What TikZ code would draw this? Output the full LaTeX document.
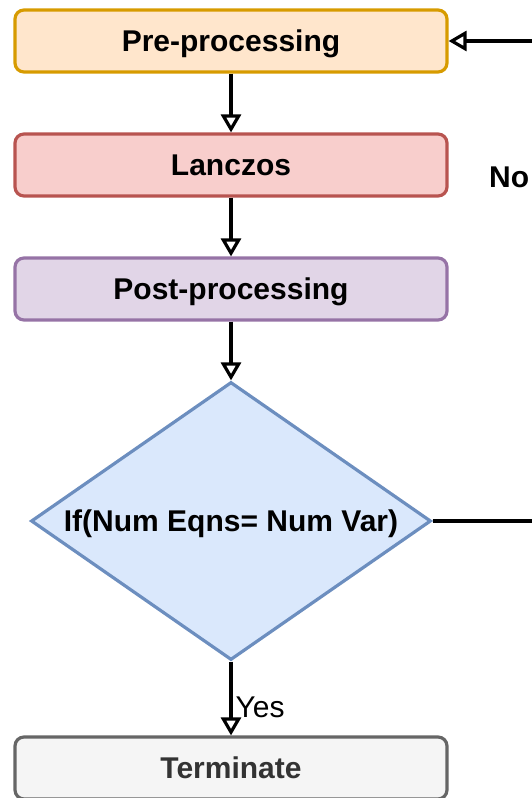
\documentclass[tikz,border=0pt]{standalone}
\usepackage{fontspec}
\setmainfont{Liberation Sans}
\usetikzlibrary{arrows.meta,shapes.geometric}

\definecolor{preFill}{HTML}{FFE6CC}\definecolor{preLine}{HTML}{D79B00}
\definecolor{lanFill}{HTML}{F8CECC}\definecolor{lanLine}{HTML}{B85450}
\definecolor{postFill}{HTML}{E1D5E7}\definecolor{postLine}{HTML}{9673A6}
\definecolor{decFill}{HTML}{DAE8FC}\definecolor{decLine}{HTML}{6C8EBF}
\definecolor{endFill}{HTML}{F5F5F5}\definecolor{endLine}{HTML}{666666}
\definecolor{endText}{HTML}{333333}

\tikzset{
  stepbox/.style={rounded corners=9pt, line width=3.2pt, minimum width=432pt,
    minimum height=62pt, inner sep=0pt, text depth=0pt,
    font=\fontsize{30}{30}\selectfont\bfseries},
  flow/.style={line width=3.2pt, -{Triangle[open, length=18pt, width=20pt, line width=3.2pt]}},
  lbl/.style={inner sep=0pt, text depth=0pt, font=\fontsize{30}{30}\selectfont}
}

\begin{document}
\begin{tikzpicture}[x=1pt, y=-1pt]
  \useasboundingbox (0,0) rectangle (532,798);
  \clip (0,0) rectangle (532,798);

  \node[stepbox, fill=preFill, draw=preLine] (pre) at (231,41) {Pre-processing};
  \node[stepbox, fill=lanFill, draw=lanLine] (lan) at (231,165) {Lanczos};
  \node[stepbox, fill=postFill, draw=postLine] (post) at (231,289) {Post-processing};
  \node[diamond, aspect=1.44, fill=decFill, draw=decLine, line width=3.2pt,
        minimum width=400pt, minimum height=278pt, inner sep=0pt] (dec) at (231,521) {};
  \node[lbl, font=\fontsize{30}{30}\selectfont\bfseries] (cond) at (231,521) {If(Num Eqns= Num Var)};
  \node[stepbox, fill=endFill, draw=endLine, text=endText] (term) at (231,768) {Terminate};

  \draw[flow] (pre) -- (lan);
  \draw[flow] (lan) -- (post);
  \draw[flow] (post) -- (dec);
  \draw[flow] (dec) -- (term) node[lbl, pos=0.62, anchor=west, xshift=3pt] (yes) {Yes};

  \coordinate (loop) at (548,300);
  \draw[flow] (dec.east) -| (loop) |- (pre.east);
  \node[lbl, font=\fontsize{30}{30}\selectfont\bfseries, anchor=west] (no) at (489,177) {No};
\end{tikzpicture}
\end{document}
